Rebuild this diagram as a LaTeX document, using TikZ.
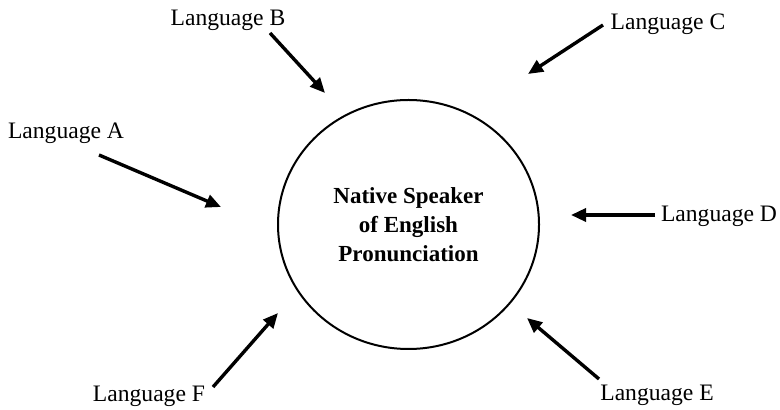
\documentclass[tikz,border=0pt]{standalone}
\usepackage{fontspec}
\setmainfont{Liberation Serif}
\usetikzlibrary{arrows.meta,shapes.geometric}
\begin{document}
\begin{tikzpicture}[x=0.5pt,y=-0.5pt,
  lang/.style={font=\fontsize{11.8}{14}\selectfont, inner sep=0pt},
  inarrow/.style={line width=1.7pt, -{Triangle[length=7.5pt,width=6.5pt]}},
  core/.style={draw, line width=1pt, ellipse, minimum width=130.5pt, minimum height=124.5pt, inner sep=0pt,
    font=\fontsize{11.5}{14.5}\selectfont\bfseries, align=center}]
\useasboundingbox (0,0) rectangle (780,410);
\node[core] (c) at (408.5,224.5) {Native Speaker\\of English\\Pronunciation};
\node[lang] (la) at (66,133) {Language A};
\node[lang] (lb) at (228,20) {Language B};
\node[lang] (lc) at (668,24) {Language C};
\node[lang] (ld) at (719,216) {Language D};
\node[lang] (le) at (657,395) {Language E};
\node[lang] (lf) at (149,396) {Language F};
\coordinate (a0) at (99,155); \coordinate (a1) at (221,207);
\coordinate (b0) at (270,33); \coordinate (b1) at (325,93);
\coordinate (c0) at (603,25); \coordinate (c1) at (528,74);
\coordinate (d0) at (655,215); \coordinate (d1) at (571,215);
\coordinate (e0) at (599,379); \coordinate (e1) at (527,318);
\coordinate (f0) at (213,387); \coordinate (f1) at (278,313);
\draw[inarrow] (a0) -- (a1);
\draw[inarrow] (b0) -- (b1);
\draw[inarrow] (c0) -- (c1);
\draw[inarrow] (d0) -- (d1);
\draw[inarrow] (e0) -- (e1);
\draw[inarrow] (f0) -- (f1);
\end{tikzpicture}
\end{document}
